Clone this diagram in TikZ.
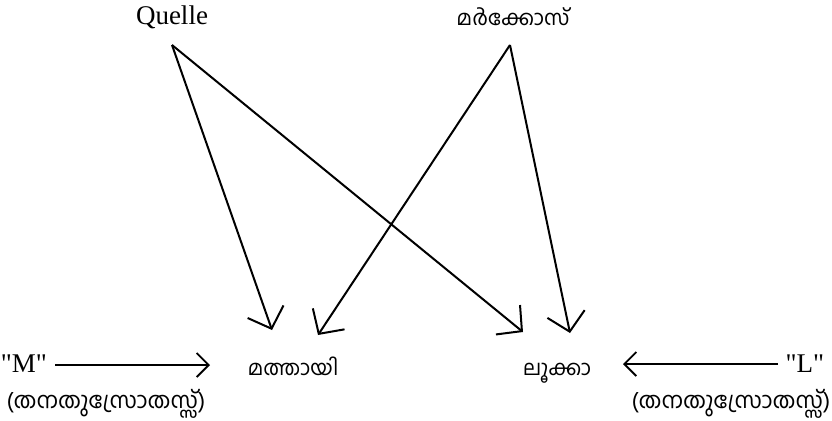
\documentclass[tikz,border=0pt]{standalone}
\usepackage{fontspec}
\setmainfont{Liberation Serif}
\newfontfamily\quotefont{Liberation Serif}
\newfontfamily\mlfont[Script=Malayalam]{Hind Kochi}
\usepackage{tikz}
\usetikzlibrary{arrows.meta,positioning,calc}

\begin{document}
\begin{tikzpicture}[x=0.5pt,y=0.5pt,font=\fontsize{13.5}{16}\selectfont,
  srcarrow/.style={-{Straight Barb[length=9pt,width=19pt,line width=1pt]},line width=1pt},
  ownarrow/.style={-{Straight Barb[length=6pt,width=12pt,line width=0.9pt]},line width=0.7pt},
  ml/.style={font=\mlfont\fontsize{10.5}{13}\selectfont},
  mlsrc/.style={font=\mlfont\fontsize{11.3}{14}\selectfont},
  own/.style={font=\quotefont\fontsize{13.5}{16}\selectfont}]
\useasboundingbox (0,0) rectangle (832,420);
% sources on top
\node[anchor=base] (quelle) at (172,396) {Quelle};
\node[ml,anchor=base] (markos) at (513,395) {മർക്കോസ്};
% gospels
\node[ml,anchor=base] (matthai) at (293,45) {മത്തായി};
\node[ml,anchor=base] (luka) at (557,45) {ലൂക്കാ};
% own sources
\node[own,anchor=base] (m) at (24,48) {"M"};
\node[mlsrc,anchor=base] (msrc) at (106,12) {(തനതുസ്രോതസ്സ്)};
\node[own,anchor=base] (l) at (805,48) {"L"};
\node[mlsrc,anchor=base] (lsrc) at (731,12) {(തനതുസ്രോതസ്സ്)};

\draw[srcarrow] ($(quelle.base)+(0,-21)$) -- ($(matthai.base)+(-21,45)$);
\draw[srcarrow] ($(quelle.base)+(0,-21)$) -- ($(luka.base)+(-34,43)$);
\draw[srcarrow] ($(markos.base)+(-3,-20)$) -- ($(matthai.base)+(25,40)$);
\draw[srcarrow] ($(markos.base)+(-3,-20)$) -- ($(luka.base)+(13,42)$);
\draw[ownarrow] ($(m.base)+(31,7)$) -- ($(matthai.base)+(-83,10)$);
\draw[ownarrow] ($(l.base)+(-27,8)$) -- ($(luka.base)+(66,11)$);
\end{tikzpicture}
\end{document}
